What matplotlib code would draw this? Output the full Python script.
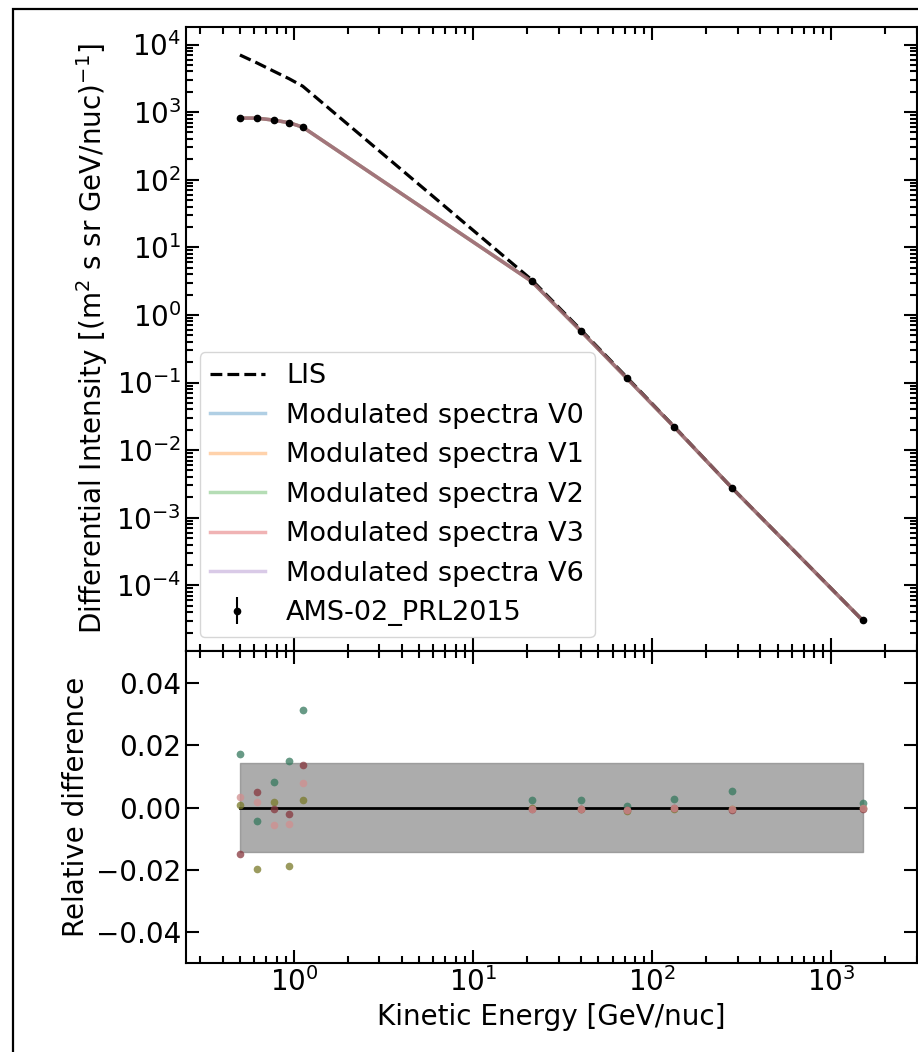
import matplotlib
matplotlib.use('Agg')
import matplotlib.pyplot as plt
from matplotlib.patches import Rectangle

# Data
energy = [0.5, 0.62, 0.77, 0.94, 1.12, 21.2, 40.0, 72.0, 132.0, 277.0, 1490.0]
lis_flux = [7000, 5370, 4040, 3120, 2420, 3.32, 0.60, 0.12, 0.0225, 0.0028, 3.05e-5]
ams_flux = [817, 817, 764, 698, 601, 3.14, 0.575, 0.116, 0.0222, 0.0028, 3.04e-5]
ams_err = [16, 16, 15, 14, 12, 0.06, 0.012, 0.0025, 0.0005, 0.0001, 2e-6]
mod_flux = [815, 815, 762, 697, 600, 3.14, 0.575, 0.116, 0.0222, 0.0028, 3.04e-5]

versions = ['V0', 'V1', 'V2', 'V3', 'V6']
line_colors = ['tab:blue', 'tab:orange', 'tab:green', 'tab:red', 'tab:purple']

rel_v0 = [0.0171, -0.0043, 0.0082, 0.0150, 0.0313, 0.0024, 0.0024, 0.0005, 0.0028, 0.0053, 0.0016]
rel_v1 = [0.0009, -0.0197, 0.0017, -0.0186, 0.0024, -0.0002, -0.0003, -0.0010, -0.0003, -0.0006, -0.0002]
rel_v2 = [0.0171, -0.0043, 0.0082, 0.0150, 0.0313, 0.0024, 0.0024, 0.0005, 0.0028, 0.0053, 0.0016]
rel_v3 = [-0.0149, 0.0049, -0.0004, -0.0022, 0.0138, -0.0005, -0.0005, -0.0008, -0.0002, -0.0007, -0.0003]
rel_v6 = [0.0033, 0.0019, -0.0056, -0.0052, 0.0078, -0.0003, -0.0004, -0.0009, -0.0002, -0.0006, 0.0000]
rel_all = [rel_v0, rel_v1, rel_v2, rel_v3, rel_v6]
dot_colors = ['#377a5f', '#7a7a2a', '#377a5f', '#87373e', '#d18f8f']
dot_alpha = [0.5, 0.75, 0.5, 0.75, 0.75]

band = 0.0142

plt.rcParams['font.size'] = 20

fig = plt.figure(figsize=(9.18, 10.52), dpi=100)
ax1 = fig.add_axes([0.2026, 0.3815, 0.7963, 0.5932])
ax2 = fig.add_axes([0.2026, 0.0849, 0.7963, 0.2966], sharex=ax1)

# figure frame (cropped on the right and bottom)
fig.patches.append(Rectangle((13 / 918, -0.2), 1.2, 1.2 - 9 / 1052, transform=fig.transFigure,
                             fill=False, edgecolor='black', linewidth=1.6, clip_on=False))

# Top panel
ax1.plot(energy, lis_flux, 'k--', lw=2.3, label='LIS')
for v, c in zip(versions, line_colors):
    ax1.plot(energy, mod_flux, color=c, lw=2.5, alpha=0.35, label=f'Modulated spectra {v}')
ax1.errorbar(energy, ams_flux, yerr=ams_err, fmt='o', color='black', ms=4.5, lw=1.5,
             label='AMS-02_PRL2015')
ax1.set_xscale('log')
ax1.set_yscale('log')
ax1.set_xlim(0.25, 3000)
ax1.set_ylabel(r'Differential Intensity [(m$^2$ s sr GeV/nuc)$^{-1}$]')
ax1.legend(loc='lower left', fontsize=19.5, labelspacing=0.5)
plt.setp(ax1.get_xticklabels(), visible=False)

# Bottom panel
ax2.fill_between(energy, -band, band, color='gray', alpha=0.65)
ax2.plot(energy, [0] * len(energy), color='black', lw=2)
for rel, c, a in zip(rel_all, dot_colors, dot_alpha):
    ax2.plot(energy, rel, 'o', color=c, alpha=a, ms=5.5, mec='none')
ax2.set_ylim(-0.0497, 0.0503)
ax2.set_yticks([-0.04, -0.02, 0.0, 0.02, 0.04])
ax2.set_ylabel('Relative difference')
ax2.set_xlabel('Kinetic Energy [GeV/nuc]')

for ax in (ax1, ax2):
    ax.tick_params(which='both', direction='in', top=True, right=True, width=1.5)
    ax.tick_params(which='major', length=9.5)
    ax.tick_params(which='minor', length=5)
    for s in ax.spines.values():
        s.set_linewidth(1.5)

fig.savefig('out.png', dpi=100)
